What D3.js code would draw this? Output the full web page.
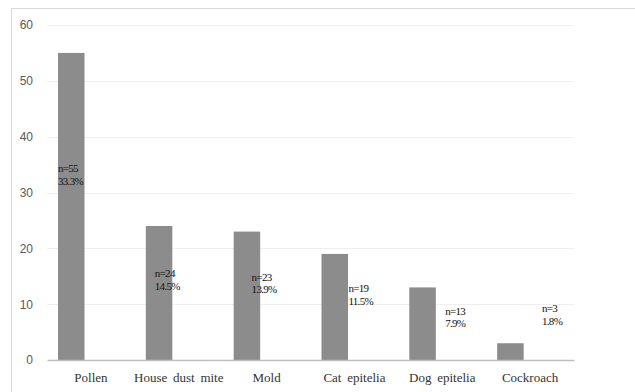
<!DOCTYPE html>
<html>
<head>
<meta charset="utf-8">
<script src="https://cdn.jsdelivr.net/npm/d3@7"></script>
<style>
  html, body { margin: 0; padding: 0; background: #fff; }
  svg { display: block; }
  .serif { font-family: "Liberation Serif", "Times New Roman", "DejaVu Serif", serif; }
  .sans { font-family: "Liberation Sans", Arial, sans-serif; }
</style>
</head>
<body>
<svg id="chart" width="635" height="392"></svg>
<script>
// Allergen sensitisation counts
const categories = ["Pollen", "House dust mite", "Mold", "Cat epitelia", "Dog epitelia", "Cockroach"];
const counts = [55, 24, 23, 19, 13, 3];
const percents = ["33.3%", "14.5%", "13.9%", "11.5%", "7.9%", "1.8%"];
const yTicks = [0, 10, 20, 30, 40, 50, 60];

// Where each annotation box sits, in axis units (first line centre)
const labelLevel = [34.4, 15.5, 14.9, 12.9, 8.8, 9.3];

const svg = d3.select("#chart");
const W = 635, H = 392;

// Chart frame
svg.append("rect")
  .attr("x", 11.5).attr("y", 8.5)
  .attr("width", W).attr("height", H)
  .attr("fill", "#fff")
  .attr("stroke", "#d9d9d9").attr("stroke-width", 1);

const plot = { left: 47, right: 574, top: 25, bottom: 360 };

const x = d3.scaleBand()
  .domain(categories)
  .range([plot.left, plot.right])
  .paddingInner(0).paddingOuter(0);

const y = d3.scaleLinear()
  .domain([0, 60])
  .range([plot.bottom, plot.top]);

// Horizontal gridlines
svg.append("g")
  .selectAll("line")
  .data(yTicks.filter(t => t > 0))
  .join("line")
  .attr("x1", plot.left).attr("x2", plot.right)
  .attr("y1", d => Math.round(y(d)) + 0.5)
  .attr("y2", d => Math.round(y(d)) + 0.5)
  .attr("stroke", "#efefef").attr("stroke-width", 1);

// Y axis tick labels
const yAxis = d3.axisLeft(y).tickValues(yTicks).tickSize(0).tickPadding(0);
const gy = svg.append("g")
  .attr("transform", `translate(33,0)`)
  .call(yAxis);
gy.attr("font-family", null).attr("font-size", null).attr("class", "sans");
gy.select(".domain").remove();
gy.selectAll("text")
  .style("font-size", "12px")
  .attr("fill", "#595959");

// Bars
const step = x.step();
svg.append("g")
  .selectAll("rect")
  .data(categories)
  .join("rect")
  .attr("x", d => x(d) + step * 0.125)
  .attr("width", step * 0.302)
  .attr("y", (d, i) => y(counts[i]))
  .attr("height", (d, i) => y(0) - y(counts[i]))
  .attr("fill", "#8c8c8c");

// Baseline axis
const xAxis = d3.axisBottom(x).tickSize(0).tickPadding(0);
const gx = svg.append("g")
  .attr("transform", `translate(0,${plot.bottom})`)
  .call(xAxis);
gx.attr("font-family", null).attr("font-size", null).attr("class", "serif");
gx.select(".domain")
  .attr("stroke", "#bfbfbf").attr("stroke-width", 1.3);
gx.selectAll("text")
  .attr("y", 21.5)
  .attr("dy", null)
  .style("font-size", "13px")
  .style("word-spacing", "2.5px")
  .attr("fill", "#333");

// Annotation boxes (n and share)
const lx = d3.scalePoint()
  .domain(categories)
  .range([58, 542]);

const ann = svg.append("g")
  .attr("class", "serif")
  .style("font-size", "11px")
  .style("letter-spacing", "-0.7px")
  .attr("fill", "#111");

categories.forEach((c, i) => {
  const t = ann.append("text")
    .attr("x", lx(c))
    .attr("y", y(labelLevel[i]) + 4);
  t.append("tspan").attr("x", lx(c)).text("n=" + counts[i]);
  t.append("tspan").attr("x", lx(c)).attr("dy", 12.6).text(percents[i]);
});
</script>
</body>
</html>
